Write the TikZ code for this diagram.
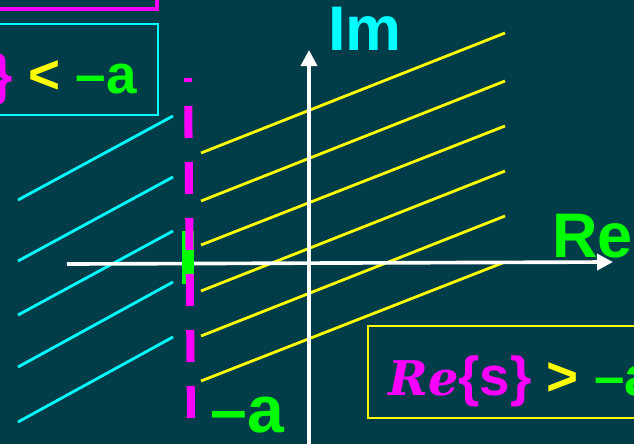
\documentclass[tikz,border=0pt]{standalone}
\usepackage{fontspec}
\setmainfont{Liberation Sans}
\newfontfamily\refont{DejaVu Serif}
\usetikzlibrary{arrows.meta}

\definecolor{slidebg}{RGB}{0,61,72}
\definecolor{hcyan}{RGB}{0,255,255}
\definecolor{hyellow}{RGB}{255,255,0}
\definecolor{hmag}{RGB}{255,0,255}
\definecolor{hgreen}{RGB}{0,255,0}

\begin{document}
\begin{tikzpicture}[
    x=1cm, y=1cm,
    >={Triangle[width=0.4cm,length=0.4cm]},
    every node/.style={inner sep=0pt},
    axis/.style={
        ->,
        white,
        line width=2.6pt
    },
    leftlines/.style={
        hcyan,
        line width=2pt
    },
    rightlines/.style={
        hyellow,
        line width=2pt
    },
    boundary/.style={
        hmag,
        line width=5.7pt,
        dash pattern=on 0.8cm off 0.6cm,
        dash phase=0.7cm
    },
    legend/.style={
        draw,
        line width=1.3pt
    },
    axlabel/.style={
        anchor=base west,
        font=\fontsize{44.8}{48}\selectfont\bfseries
    },
    cond/.style={
        font=\fontsize{39}{43}\selectfont\bfseries
    }
]

    % canvas
    \useasboundingbox (0,0) rectangle (15.85,11.1);
    \clip (0,0) rectangle (15.85,11.1);
    \fill[slidebg] (0,0) rectangle (15.85,11.1);

    % region Re{s} < -a
    \draw[leftlines] (0.45,6.1) -- (4.325,8.2);
    \draw[leftlines] (0.45,4.575) -- (4.325,6.675);
    \draw[leftlines] (0.45,3.225) -- (4.325,5.325);
    \draw[leftlines] (0.45,1.925) -- (4.325,4.05);
    \draw[leftlines] (0.45,0.55) -- (4.325,2.675);

    % region Re{s} > -a
    \draw[rightlines] (5.025,7.275) -- (12.625,10.275);
    \draw[rightlines] (5.025,6.075) -- (12.625,9.075);
    \draw[rightlines] (5.025,4.975) -- (12.625,7.95);
    \draw[rightlines] (5.025,3.825) -- (12.625,6.825);
    \draw[rightlines] (5.025,2.7) -- (12.625,5.7);
    \draw[rightlines] (5.025,1.575) -- (12.625,4.55);

    % axes
    \coordinate (xstart) at (1.675,4.5);
    \coordinate (xend) at (15.325,4.55);
    \coordinate (ystart) at (7.725,-0.2);
    \coordinate (yend) at (7.725,9.85);
    \draw[axis] (xstart) -- (xend);
    \draw[axis] (ystart) -- (yend);

    \node[axlabel, text=hcyan] (im) at (8.2,9.85) {Im};
    \node[axlabel, text=hgreen] (re) at (13.8,4.675) {Re};

    % pole at -a and boundary line
    \fill[hgreen] (4.55,4.0) rectangle (4.85,5.325);
    \coordinate (btop) at (4.7,9.15);
    \coordinate (bbot) at (4.775,0.65);
    \draw[boundary] (btop) -- (bbot);

    \node[
        anchor=base west,
        text=hgreen,
        font=\fontsize{47}{50}\selectfont\bfseries
    ] (minusa) at (5.25,0.3) {–a};

    % condition boxes
    \draw[hmag, line width=2.8pt] (-0.3,11.5) rectangle (3.925,10.875);

    \draw[legend, hcyan] (-0.3,10.5) rectangle (3.95,8.225);
    \node[cond, anchor=base east] (lefttext) at (3.425,8.775)
        {\textcolor{hmag}{\}} \textcolor{hyellow}{<} \textcolor{hgreen}{–a}};

    \draw[legend, hyellow] (9.2,2.95) rectangle (16.2,0.65);
    \node[cond, anchor=base west, text=hmag] (righttext) at (9.7,1.225)
        {{\refont\itshape\fontsize{34}{38}\selectfont Re}\{s\}
         \textcolor{hyellow}{>} \textcolor{hgreen}{–a}};

\end{tikzpicture}
\end{document}
